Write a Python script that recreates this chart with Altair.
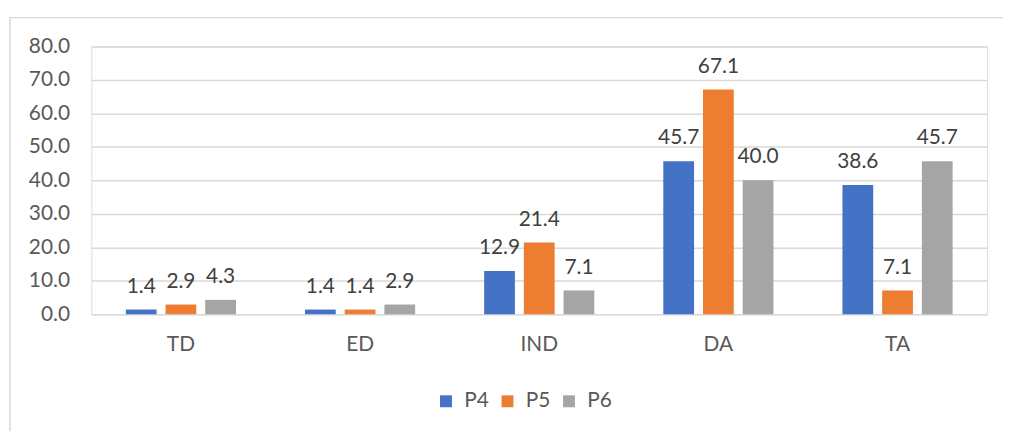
import altair as alt
import pandas as pd

categories = ["TD", "ED", "IND", "DA", "TA"]
series = ["P4", "P5", "P6"]
p4 = [1.4, 1.4, 12.9, 45.7, 38.6]
p5 = [2.9, 1.4, 21.4, 67.1, 7.1]
p6 = [4.3, 2.9, 7.1, 40.0, 45.7]
colors = ["#4472C4", "#ED7D31", "#A5A5A5"]

rows = []
for i, c in enumerate(categories):
    for s, vals in zip(series, [p4, p5, p6]):
        rows.append({"cat": c, "series": s, "value": vals[i]})
df = pd.DataFrame(rows)

FONT = "Lato"
TXT = "#595959"

x_enc = alt.X("cat:N", sort=categories,
              scale=alt.Scale(paddingInner=0.385, paddingOuter=0.1925),
              axis=alt.Axis(title=None, labelAngle=0, domain=False, ticks=False,
                            labelPadding=20, labelFontSize=21, labelFont=FONT,
                            labelColor=TXT, grid=False))
xo_enc = alt.XOffset("series:N", sort=series,
                     scale=alt.Scale(paddingInner=0.225, paddingOuter=0))
y_enc = alt.Y("value:Q", scale=alt.Scale(domain=[0, 80], nice=False),
              axis=alt.Axis(title=None, values=list(range(0, 81, 10)), format=".1f",
                            domain=False, ticks=False, labelPadding=22,
                            labelFontSize=21, labelFont=FONT, labelColor=TXT,
                            gridColor="#d9d9d9", gridWidth=1.5))

base = alt.Chart(df)

bars = base.mark_bar().encode(
    x=x_enc, xOffset=xo_enc, y=y_enc,
    color=alt.Color("series:N", sort=series,
                    scale=alt.Scale(domain=series, range=colors),
                    legend=alt.Legend(title=None, orient="none", direction="horizontal",
                                      legendX=347, legendY=347, symbolType="square",
                                      symbolSize=144, symbolStrokeWidth=0,
                                      labelFontSize=21, labelFont=FONT, labelColor=TXT,
                                      labelOffset=8, columnPadding=8)),
)

labels = base.mark_text(baseline="alphabetic", dy=-17, fontSize=21, font=FONT,
                        color="#404040").encode(
    x=x_enc, xOffset=xo_enc, y=y_enc,
    text=alt.Text("value:Q", format=".1f"),
)

border = alt.Chart(alt.Data(values=[{}])).mark_rect(
    filled=False, stroke="#d9d9d9", strokeWidth=1.5, clip=False
).encode(x=alt.value(-82), x2=alt.value(1000), y=alt.value(-29), y2=alt.value(500))

chart = alt.layer(border, bars, labels).properties(
    width=903, height=270,
    autosize=alt.AutoSizeParams(type="none"),
    padding={"left": 84, "top": 37, "right": 16, "bottom": 116},
).configure_view(stroke=None).configure(background="white")

chart.save("out.html", embed_options={"renderer": "svg", "actions": False})
